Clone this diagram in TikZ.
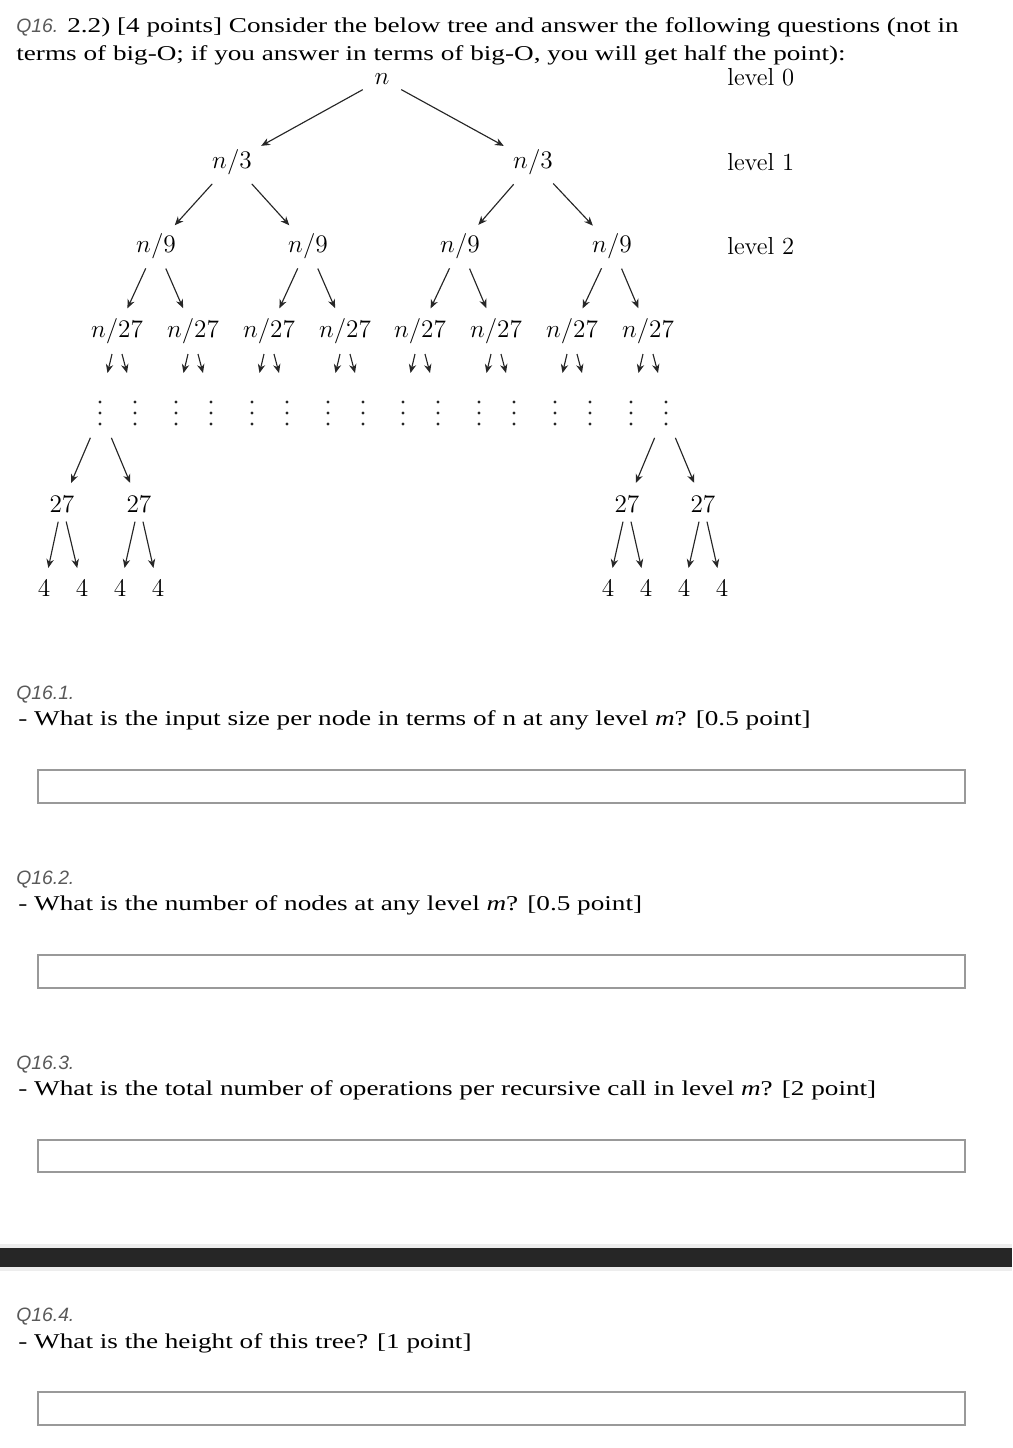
\documentclass[tikz,border=0pt]{standalone}
\usepackage{fontspec}
\newfontfamily\qfont[FakeStretch=1.29]{Liberation Serif}
\newfontfamily\lblfont{Liberation Sans}
\usetikzlibrary{arrows.meta}
\tikzset{
  tnode/.style={font=\fontsize{14}{16}\selectfont, inner sep=0pt},
  edge/.style={->, line width=0.65pt, black!85},
  qtext/.style={font=\qfont\fontsize{12}{14}\selectfont, anchor=base west, inner sep=0pt},
  qlabel/.style={font=\lblfont\itshape\fontsize{11}{13}\selectfont, text=black!65, anchor=base west, inner sep=0pt},
  ansbox/.style={draw=black!40, line width=0.8pt}
}
\begin{document}
\begin{tikzpicture}[x=0.02cm, y=-0.02cm, >={Stealth[length=5pt, width=4.2pt, inset=1.6pt]}]
    % 1. Page frame
    \useasboundingbox (0,0) rectangle (1012,1448);

    % 2. Header
    \node[qtext] (title1) at (16,32) {{\lblfont\itshape\fontsize{11}{13}\selectfont\color{black!65}Q16.} 2.2) [4 points] Consider the below tree and answer the following questions (not in};
    \node[qtext] (title2) at (16,60) {terms of big-O; if you answer in terms of big-O, you will get half the point):};

    % 3. Tree nodes, levels 0--3
    \node[tnode] (root) at (382,79) {$n$};
    \node[tnode] (a1) at (232,162) {$n/3$};
    \node[tnode] (a2) at (533,162) {$n/3$};
    \foreach \i/\x in {1/156, 2/308, 3/460, 4/612}
        \node[tnode] (b\i) at (\x,246) {$n/9$};
    \foreach \i/\x in {1/117, 2/193, 3/269, 4/345, 5/420, 6/496, 7/572, 8/648}
        \node[tnode] (c\i) at (\x,331) {$n/27$};

    % level labels
    \node[tnode, anchor=base west] (lv0) at (727,85) {level 0};
    \node[tnode, anchor=base west] (lv1) at (727,170) {level 1};
    \node[tnode, anchor=base west] (lv2) at (727,254) {level 2};

    % 4. Edges between levels
    \draw[edge, shorten <=12.5pt, shorten >=19pt] (root.center) -- (a1.center);
    \draw[edge, shorten <=12.5pt, shorten >=19pt] (root.center) -- (a2.center);
    \foreach \p/\c in {a1/b1, a1/b2, a2/b3, a2/b4}
        \draw[edge, shorten <=16.8pt, shorten >=15.9pt] (\p.center) -- (\c.center);
    \foreach \p/\c in {b1/c1, b1/c2, b2/c3, b2/c4, b3/c5, b3/c6, b4/c7, b4/c8}
        \draw[edge, shorten <=14pt, shorten >=14.2pt] (\p.center) -- (\c.center);

    % short arrows under n/27
    \foreach \i in {1,...,8} {
        \draw[edge] ([shift={(-5,23)}]c\i.center) -- ++(-4.5,19);
        \draw[edge] ([shift={(5,23)}]c\i.center) -- ++(5,19);
    }

    % 5. Vertical dots
    \foreach \x in {117,193,269,345,420,496,572,648}
        \foreach \dx in {-17,18}
            \foreach \y in {402,413,424}
                \fill[black!85] (\x+\dx,\y) circle[radius=0.95pt];
    \coordinate (dL) at (101,413);
    \coordinate (dR) at (665,413);

    % 6. Bottom levels
    \foreach \i/\x in {1/62, 2/139, 3/627, 4/703}
        \node[tnode] (t\i) at (\x,504) {$27$};
    \foreach \i/\x in {1/44, 2/82, 3/120, 4/158, 5/608, 6/646, 7/684, 8/722}
        \node[tnode] (f\i) at (\x,588) {$4$};

    \foreach \c in {t1, t2}
        \draw[edge, shorten <=15.3pt, shorten >=13pt] (dL) -- (\c.center);
    \foreach \c in {t3, t4}
        \draw[edge, shorten <=15.3pt, shorten >=13pt] (dR) -- (\c.center);
    \foreach \p/\c in {t1/f1, t1/f2, t2/f3, t2/f4, t3/f5, t3/f6, t4/f7, t4/f8}
        \draw[edge, shorten <=10.3pt, shorten >=11.7pt] (\p.center) -- (\c.center);

    % 7. Questions and answer boxes
    \node[qlabel] (l1) at (16,699) {Q16.1.};
    \node[qtext] (q1) at (18,725) {- What is the input size per node in terms of n at any level \textit{m}? [0.5 point]};
    \draw[ansbox] (38,770) rectangle (965,803);

    \node[qlabel] (l2) at (16,884) {Q16.2.};
    \node[qtext] (q2) at (18,910) {- What is the number of nodes at any level \textit{m}? [0.5 point]};
    \draw[ansbox] (38,955) rectangle (965,988);

    \node[qlabel] (l3) at (16,1069) {Q16.3.};
    \node[qtext] (q3) at (18,1095) {- What is the total number of operations per recursive call in level \textit{m}? [2 point]};
    \draw[ansbox] (38,1140) rectangle (965,1172);

    % dark separator bar
    \fill[black!7] (0,1244) rectangle (1012,1271);
    \fill[black!85] (0,1248) rectangle (1012,1267);

    \node[qlabel] (l4) at (16,1321) {Q16.4.};
    \node[qtext] (q4) at (18,1348) {- What is the height of this tree? [1 point]};
    \draw[ansbox] (38,1392) rectangle (965,1425);
\end{tikzpicture}
\end{document}
